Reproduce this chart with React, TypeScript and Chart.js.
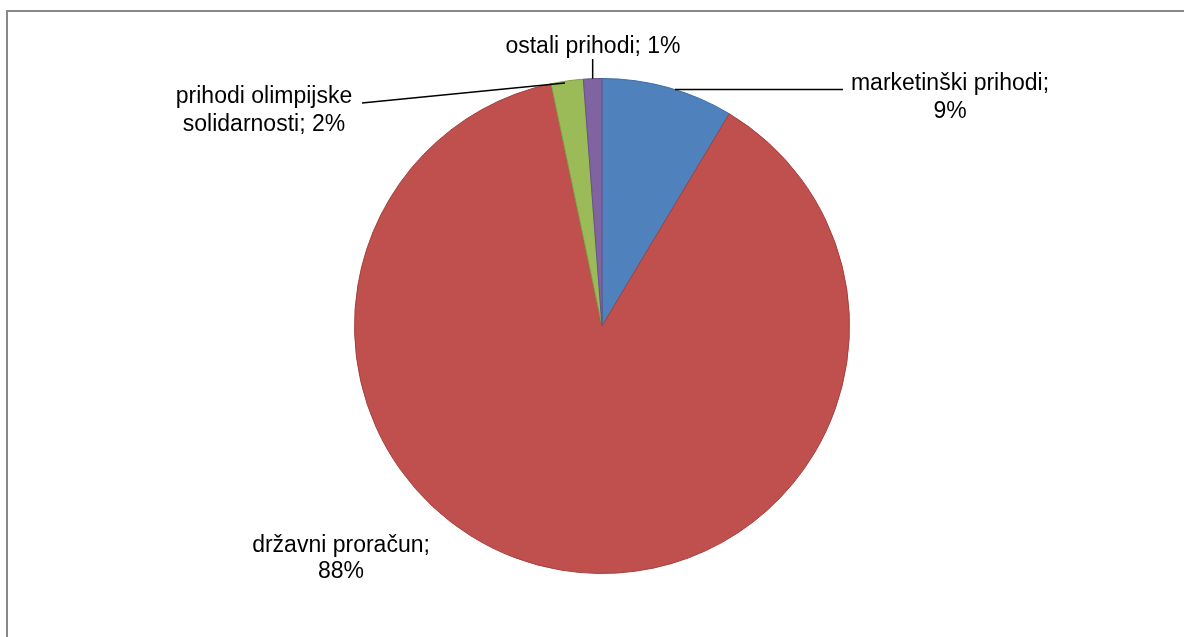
import React, { useEffect, useRef } from "react";
import { Chart, registerables } from "chart.js";

Chart.register(...registerables);

const categories = ["marketinški prihodi", "državni proračun", "prihodi olimpijske solidarnosti", "ostali prihodi"];
const values = [8.6, 88.1, 2.1, 1.2];
const percentLabels = ["9%", "88%", "2%", "1%"];
const colors = ["#4F81BD", "#C0504D", "#9BBB59", "#8064A2"];
const borderColors = ["#3E6DA3", "#A3403D", "#7F9E45", "#68508A"];

const FONT = "23px 'Liberation Sans', Arial, sans-serif";

const labelPlugin = {
  id: "pieLabels",
  afterDraw(chart: any) {
    const ctx = chart.ctx;
    const arcs = chart.getDatasetMeta(0).data;
    const cx = arcs[0].x;
    const cy = arcs[0].y;
    const r = arcs[0].outerRadius;
    ctx.save();
    ctx.font = FONT;
    ctx.fillStyle = "#000";
    ctx.textAlign = "center";
    ctx.textBaseline = "alphabetic";
    ctx.strokeStyle = "#000";
    ctx.lineWidth = 1.5;

    const edge = (i: number, frac: number) => {
      const a = arcs[i];
      const ang = a.startAngle + (a.endAngle - a.startAngle) * frac;
      return { x: a.x + Math.cos(ang) * a.outerRadius, y: a.y + Math.sin(ang) * a.outerRadius };
    };

    // marketinški prihodi
    {
      const y = 89.5;
      const x = cx + Math.sqrt(Math.max(0, r * r - (cy - y) * (cy - y)));
      ctx.beginPath();
      ctx.moveTo(x, y);
      ctx.lineTo(843, y);
      ctx.stroke();
      ctx.fillText(categories[0] + ";", 950, 90);
      ctx.fillText(percentLabels[0], 950, 118);
    }
    // državni proračun
    {
      ctx.fillText(categories[1] + ";", 341, 552);
      ctx.fillText(percentLabels[1], 341, 578);
    }
    // prihodi olimpijske solidarnosti
    {
      const y = 83;
      const x = cx - Math.sqrt(Math.max(0, r * r - (cy - y) * (cy - y)));
      ctx.beginPath();
      ctx.moveTo(Math.max(x, 565), y);
      ctx.lineTo(372, 102);
      ctx.lineTo(362, 103);
      ctx.stroke();
      ctx.fillText("prihodi olimpijske", 264, 103);
      ctx.fillText("solidarnosti; " + percentLabels[2], 264, 131);
    }
    // ostali prihodi
    {
      const p = edge(3, 0.5);
      ctx.beginPath();
      ctx.moveTo(p.x, p.y);
      ctx.lineTo(p.x, 59);
      ctx.stroke();
      ctx.fillText(categories[3] + "; " + percentLabels[3], 593, 53);
    }
    ctx.restore();
  },
};

export default function App() {
  const ref = useRef<HTMLCanvasElement>(null);
  useEffect(() => {
    const chart = new Chart(ref.current!, {
      type: "pie",
      data: {
        labels: categories,
        datasets: [
          {
            data: values,
            backgroundColor: colors,
            borderColor: borderColors,
            borderWidth: 1,
          },
        ],
      },
      options: {
        animation: false,
        responsive: false,
        events: [],
        layout: { padding: { left: 354, right: 334, top: 78, bottom: 63 } },
        plugins: { legend: { display: false }, tooltip: { enabled: false } },
      },
      plugins: [labelPlugin],
    });
    return () => chart.destroy();
  }, []);
  return (
    <div style={{ position: "fixed", left: 0, top: 0, width: 1184, height: 637, background: "#fff", overflow: "hidden" }}>
      <div
        style={{
          position: "absolute",
          left: 6,
          top: 10,
          width: 1200,
          height: 660,
          border: "2px solid #888",
          boxSizing: "border-box",
        }}
      />
      <canvas ref={ref} width={1184} height={637} style={{ position: "absolute", left: 0, top: 0 }} />
    </div>
  );
}
